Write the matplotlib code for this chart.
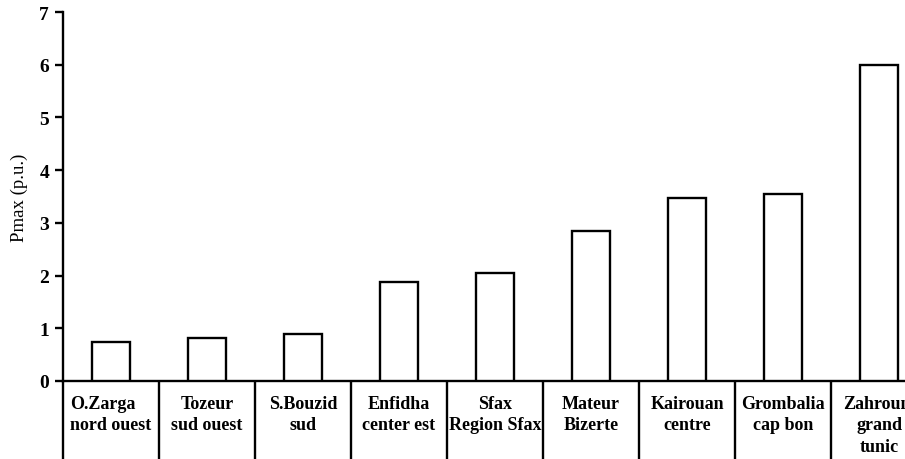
import matplotlib
matplotlib.use('Agg')
import matplotlib.pyplot as plt
import numpy as np

# --- Data ---
SITES = ['O.Zarga\nnord ouest', 'Tozeur\nsud ouest', 'S.Bouzid\nsud', 'Enfidha\ncenter est',
         'Sfax\nRegion Sfax', 'Mateur\nBizerte', 'Kairouan\ncentre', 'Grombalia\ncap bon',
         'Zahrouni\ngrand\ntunic']
PMAX = [0.74, 0.81, 0.90, 1.87, 2.04, 2.84, 3.48, 3.54, 6.0]
Y_TICKS = [0, 1, 2, 3, 4, 5, 6, 7]

plt.rcParams['font.family'] = ['Liberation Serif', 'DejaVu Serif']

fig = plt.figure(figsize=(9.05, 4.6), dpi=100)
ax = fig.add_axes([63 / 905, 78 / 460, 1 - 63 / 905, 369 / 460])

x = np.arange(len(PMAX))
ax.bar(x, PMAX, width=0.4, color='white', edgecolor='black', linewidth=1.7, zorder=3)

ax.set_xlim(-0.5, 8.27)
ax.set_ylim(0, 7)

for side in ('top', 'right'):
    ax.spines[side].set_visible(False)
for side in ('left', 'bottom'):
    ax.spines[side].set_linewidth(1.7)

ax.set_yticks(Y_TICKS)
ax.set_yticklabels([str(t) for t in Y_TICKS], fontsize=14, fontweight='bold')
ax.tick_params(axis='y', length=6, width=1.7, pad=4)

# category names centred under each bar, boundaries as long minor ticks
ax.set_xticks(x)
labels = ax.set_xticklabels(SITES, fontsize=13, fontweight='bold', linespacing=1.35)
labels[0].set_multialignment('left')
ax.tick_params(axis='x', which='major', length=0, pad=10)
ax.set_xticks(np.arange(-0.5, len(PMAX) - 1, 1.0), minor=True)
ax.tick_params(axis='x', which='minor', length=56, width=1.7, direction='out')

ax.set_ylabel('Pmax (p.u.)', fontsize=13.5, labelpad=8)

fig.savefig('out.png', dpi=100)
